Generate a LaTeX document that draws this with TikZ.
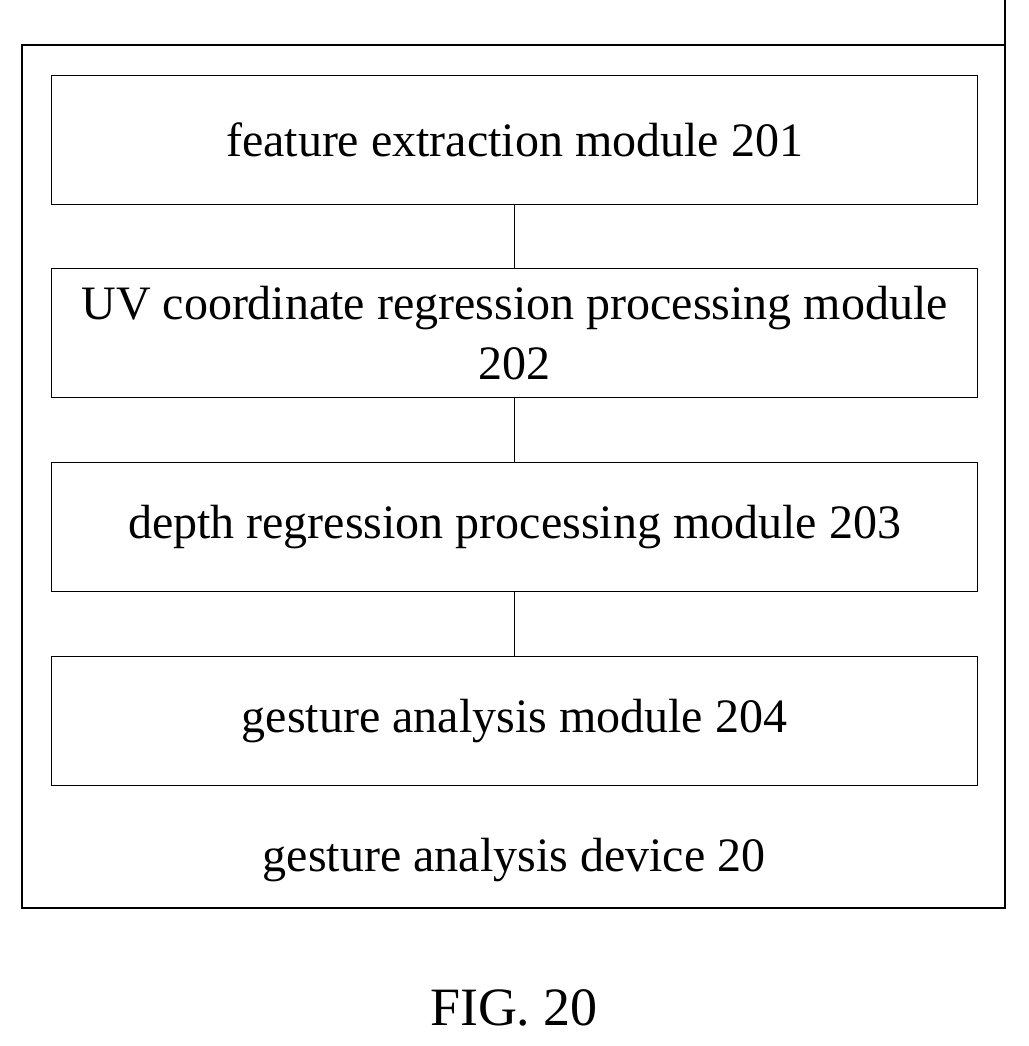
\documentclass[tikz,border=0pt]{standalone}
\usepackage{fontspec}
\setmainfont{Liberation Serif}
\begin{document}
\begin{tikzpicture}[x=1pt,y=-1pt,line width=1.2pt,
 mod/.style={draw,minimum width=926pt,minimum height=129pt,anchor=north west,inner sep=0pt,align=center,font=\fontsize{48}{60}\selectfont}]
\useasboundingbox (0,0) rectangle (1028,1046);
\draw (1005,0) -- (1005,908) -- (22,908) -- (22,45) -- (1005,45);
\node[mod] (a) at (51,75) {feature extraction module 201};
\node[mod] (b) at (51,268) {UV coordinate regression processing module\\202};
\node[mod] (c) at (51,462) {depth regression processing module 203};
\node[mod] (d) at (51,656) {gesture analysis module 204};
\draw (a) -- (b); \draw (b) -- (c); \draw (c) -- (d);
\node[font=\fontsize{48}{60}\selectfont] (dev) at (514,860) {gesture analysis device 20};
\node[font=\fontsize{54}{60}\selectfont] (fig) at (514,1008) {FIG. 20};
\end{tikzpicture}
\end{document}
